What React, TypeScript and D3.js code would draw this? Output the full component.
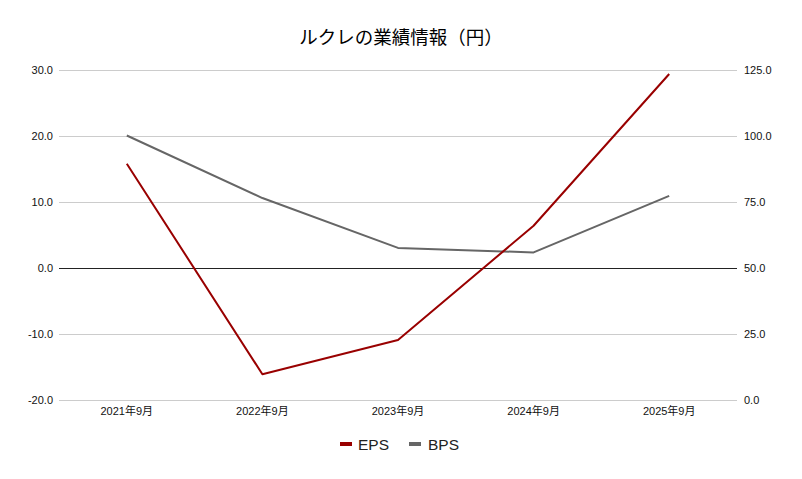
import React from 'react';
import * as d3 from 'd3';

const categories = ['2021年9月', '2022年9月', '2023年9月', '2024年9月', '2025年9月'];
const epsValues = [15.8, -16.1, -10.9, 6.4, 29.4];
const bpsValues = [100.2, 76.5, 57.6, 55.9, 77.3];
const leftTicks = [-20, -10, 0, 10, 20, 30];
const rightTicks = [0, 25, 50, 75, 100, 125];

const W = 802;
const H = 479;
const margin = { top: 70, right: 65, bottom: 79, left: 59 };
const FONT = '"Liberation Sans", Arial, "Noto Sans CJK JP", sans-serif';

const App: React.FC = () => {
  const x = d3.scaleBand<string>()
    .domain(categories)
    .range([margin.left, W - margin.right]);
  const cx = (c: string) => (x(c) ?? 0) + x.bandwidth() / 2;

  const yL = d3.scaleLinear().domain([-20, 30]).range([H - margin.bottom, margin.top]);
  const yR = d3.scaleLinear().domain([0, 125]).range([H - margin.bottom, margin.top]);

  const epsLine = d3.line<number>()
    .x((_, i) => cx(categories[i]))
    .y(d => yL(d));
  const bpsLine = d3.line<number>()
    .x((_, i) => cx(categories[i]))
    .y(d => yR(d));

  const x0 = margin.left;
  const x1 = W - margin.right;

  return (
    <svg width={W} height={H} style={{ position: 'absolute', left: 0, top: 0, background: '#fff' }} fontFamily={FONT}>
      <rect width={W} height={H} fill="#fff" />
      <text x={W / 2} y={44} textAnchor="middle" fontSize={18.5} fill="#000">ルクレの業績情報（円）</text>

      {leftTicks.map(t => {
        const y = Math.round(yL(t)) + 0.5;
        return (
          <g key={t}>
            <line x1={x0} x2={x1} y1={y} y2={y}
              stroke={t === 0 ? '#222' : '#ccc'} strokeWidth={1} />
            <text x={53} y={yL(t) + 4} textAnchor="end" fontSize={11} fill="#111">{t.toFixed(1)}</text>
          </g>
        );
      })}
      {rightTicks.map(t => (
        <text key={t} x={744} y={yR(t) + 4} textAnchor="start" fontSize={11} fill="#111">{t.toFixed(1)}</text>
      ))}

      {categories.map(c => (
        <text key={c} x={cx(c)} y={415} textAnchor="middle" fontSize={11} fill="#111">{c}</text>
      ))}

      <path d={bpsLine(bpsValues) ?? ''} fill="none" stroke="#666666" strokeWidth={2} strokeLinejoin="round" />
      <path d={epsLine(epsValues) ?? ''} fill="none" stroke="#990000" strokeWidth={2} strokeLinejoin="round" />

      <g>
        <rect x={340} y={442} width={12} height={4} fill="#990000" />
        <text x={358} y={450} fontSize={15.5} fill="#222">EPS</text>
        <rect x={409} y={442} width={12} height={4} fill="#666666" />
        <text x={428} y={450} fontSize={15.5} fill="#222">BPS</text>
      </g>
    </svg>
  );
};

export default App;
